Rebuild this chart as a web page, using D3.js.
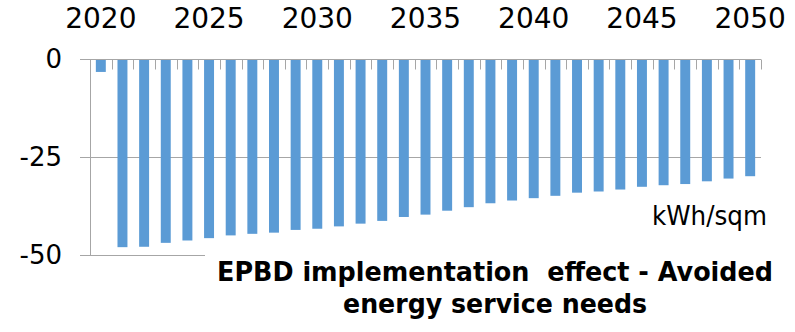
<!DOCTYPE html>
<html>
<head>
<meta charset="utf-8">
<script src="https://cdn.jsdelivr.net/npm/d3@7"></script>
<style>
  html, body { margin: 0; padding: 0; background: #fff; }
  svg { display: block; }
  text { font-family: "DejaVu Sans", sans-serif; fill: #000; }
</style>
</head>
<body>
<svg id="chart" width="795" height="332"></svg>
<script>
const categories = ["2020","2021","2022","2023","2024","2025","2026","2027","2028","2029","2030",
  "2031","2032","2033","2034","2035","2036","2037","2038","2039","2040",
  "2041","2042","2043","2044","2045","2046","2047","2048","2049","2050"];
const values = [-3.3,-48.0,-47.9,-46.9,-46.3,-45.7,-45.0,-44.6,-44.3,-43.6,-43.3,
  -42.7,-42.0,-41.3,-40.3,-39.7,-38.7,-37.8,-36.8,-36.1,-35.5,
  -34.9,-34.1,-33.8,-33.3,-32.6,-32.2,-31.9,-31.2,-30.5,-29.9];
const xTickLabels = ["2020","2025","2030","2035","2040","2045","2050"];
const yTicks = [0, -25, -50];
const unitLabel = "kWh/sqm";
const titleLines = ["EPBD implementation  effect - Avoided", "energy service needs"];

const svg = d3.select("#chart");
const plotLeft = 90, plotRight = 761, plotTop = 59, plotBottom = 255;
const gridColor = "#a6a6a6";

const x = d3.scaleBand().domain(categories).range([plotLeft, plotRight])
  .paddingInner(0.54).paddingOuter(0.27);
const y = d3.scaleLinear().domain([-50, 0]).range([plotBottom, plotTop]);

// gridlines
svg.append("g").selectAll("line").data(yTicks.filter(d => d !== 0)).join("line")
  .attr("x1", plotLeft - 10).attr("x2", plotRight)
  .attr("y1", d => Math.round(y(d)) + 0.5).attr("y2", d => Math.round(y(d)) + 0.5)
  .attr("stroke", gridColor).attr("stroke-width", 1);

// bars
svg.append("g").selectAll("rect").data(categories).join("rect")
  .attr("x", d => x(d))
  .attr("width", x.bandwidth())
  .attr("y", y(0))
  .attr("height", (d, i) => y(values[i]) - y(0))
  .attr("fill", "#5b9bd5");

// left axis line
svg.append("line")
  .attr("x1", plotLeft + 0.5).attr("x2", plotLeft + 0.5)
  .attr("y1", y(0)).attr("y2", y(-50))
  .attr("stroke", gridColor).attr("stroke-width", 1);

// zero axis line + category boundary ticks
const y0 = Math.round(y(0)) + 0.5;
svg.append("line")
  .attr("x1", plotLeft - 10).attr("x2", plotRight)
  .attr("y1", y0).attr("y2", y0)
  .attr("stroke", gridColor).attr("stroke-width", 1);
const boundaries = categories.map(c => x(c) - x.step() * x.paddingOuter()).concat([plotRight]);
svg.append("g").selectAll("line").data(boundaries).join("line")
  .attr("x1", d => Math.round(d) + 0.5).attr("x2", d => Math.round(d) + 0.5)
  .attr("y1", y0).attr("y2", y0 + 10)
  .attr("stroke", gridColor).attr("stroke-width", 1);

// top category labels
svg.append("g").selectAll("text").data(xTickLabels).join("text")
  .attr("x", d => x(d) + x.bandwidth() / 2)
  .attr("y", 28)
  .attr("text-anchor", "middle")
  .attr("font-size", 28)
  .text(d => d);

// y labels
svg.append("g").selectAll("text").data(yTicks).join("text")
  .attr("x", 62)
  .attr("y", d => y(d))
  .attr("dy", "0.36em")
  .attr("text-anchor", "end")
  .attr("font-size", 26)
  .text(d => d);

// unit label
svg.append("text")
  .attr("x", 767).attr("y", 225)
  .attr("text-anchor", "end")
  .attr("font-size", 26)
  .attr("textLength", 115).attr("lengthAdjust", "spacingAndGlyphs")
  .text(unitLabel);

// title box
svg.append("rect").attr("x", 205).attr("y", 250).attr("width", 590).attr("height", 82).attr("fill", "#fff");
const titleWidths = [556, 304];
svg.append("g").selectAll("text").data(titleLines).join("text")
  .attr("x", 495)
  .attr("y", (d, i) => 281 + i * 32)
  .attr("text-anchor", "middle")
  .attr("font-size", 26)
  .attr("font-weight", "bold")
  .attr("textLength", (d, i) => titleWidths[i]).attr("lengthAdjust", "spacingAndGlyphs")
  .style("white-space", "pre")
  .text(d => d);
</script>
</body>
</html>
